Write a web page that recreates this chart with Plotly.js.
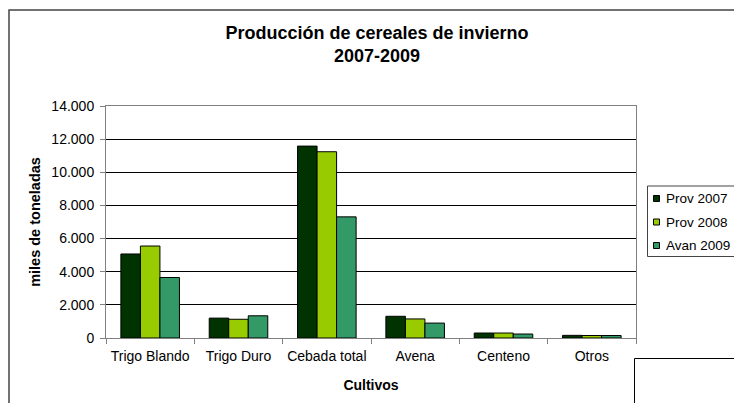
<!DOCTYPE html>
<html>
<head>
<meta charset="utf-8">
<script src="https://cdn.plot.ly/plotly-3.0.1.min.js"></script>
<style>html,body{margin:0;padding:0;background:#fff;}#chart{width:734px;height:403px;}</style>
</head>
<body>
<div id="chart"></div>
<script>
const categories = ["Trigo Blando", "Trigo Duro", "Cebada total", "Avena", "Centeno", "Otros"];
const seriesNames = ["Prov 2007", "Prov 2008", "Avan 2009"];
const prov2007 = [5070, 1200, 11580, 1310, 300, 160];
const prov2008 = [5550, 1130, 11240, 1150, 300, 150];
const avan2009 = [3650, 1340, 7310, 900, 240, 150];
const yTicks = [0, 2000, 4000, 6000, 8000, 10000, 12000, 14000];
const colors = ["#003300", "#99CC00", "#339966"];

const W = 734, H = 403;
const L = 106, R = 636, T = 106, B = 338;
const pw = R - L, ph = B - T;
const px = x => (x - L) / pw;
const py = y => (B - y) / ph;
const FONT = "Liberation Sans, Arial, sans-serif";

const data = [prov2007, prov2008, avan2009].map((vals, i) => ({
  type: "bar",
  name: seriesNames[i],
  x: categories,
  y: vals,
  marker: {color: colors[i], line: {color: "#000000", width: 1}},
  hoverinfo: "x+y+name"
}));

// custom legend (Excel-like compact legend)
const legendShapes = [
  {type: "rect", xref: "paper", yref: "paper",
   x0: px(647.5), x1: px(760), y0: py(186), y1: py(256.5),
   line: {color: "#444444", width: 1}, fillcolor: "#ffffff"}
];
const legendAnn = [];
const rowY = [198.5, 222, 245.5];
seriesNames.forEach((n, i) => {
  legendShapes.push({type: "rect", xref: "paper", yref: "paper",
    x0: px(653.5), x1: px(659.5), y0: py(rowY[i] - 3), y1: py(rowY[i] + 3),
    line: {color: "#000000", width: 1}, fillcolor: colors[i]});
  legendAnn.push({xref: "paper", yref: "paper", x: px(664), y: py(rowY[i]),
    xanchor: "left", yanchor: "middle", showarrow: false, text: n,
    font: {family: FONT, size: 13.5, color: "#000"}});
});

const layout = {
  width: W, height: H,
  margin: {l: L, r: W - R, t: T, b: H - B, pad: 0, autoexpand: false},
  paper_bgcolor: "#ffffff",
  plot_bgcolor: "#ffffff",
  separators: ",.",
  font: {family: FONT, size: 14, color: "#000"},
  barmode: "group",
  bargap: 0.337,
  bargroupgap: 0,
  showlegend: false,
  title: {
    text: "<b>Producción de cereales de invierno<br>2007-2009</b>",
    font: {size: 18, color: "#000"},
    x: 377 / W, xanchor: "center", xref: "container",
    y: 1 - 39 / H, yanchor: "middle", yref: "container"
  },
  xaxis: {
    type: "category",
    showline: true, linecolor: "#808080", linewidth: 1, mirror: true,
    ticks: "outside", tickson: "boundaries", ticklen: 5, tickcolor: "#808080",
    tickangle: 0, ticklabelstandoff: 5,
    showgrid: false, zeroline: false,
    tickfont: {size: 14},
    title: {text: "<b>Cultivos</b>", font: {size: 14}, standoff: 17}
  },
  yaxis: {
    range: [0, 14000],
    tickvals: yTicks,
    tickformat: ",d",
    showline: true, linecolor: "#808080", linewidth: 1, mirror: true,
    ticks: "outside", ticklen: 5, tickcolor: "#808080",
    ticklabelstandoff: 3,
    showgrid: true, gridcolor: "#000000", gridwidth: 1,
    zeroline: false,
    tickfont: {size: 14},
    title: {text: "<b>miles de toneladas</b>", font: {size: 14.5}, standoff: 7}
  },
  annotations: legendAnn,
  shapes: [
    {type: "rect", xref: "paper", yref: "paper",
     x0: px(9), x1: px(745), y0: py(10), y1: py(415),
     line: {color: "#444444", width: 1.5}, fillcolor: "rgba(0,0,0,0)", layer: "below"},
    {type: "rect", xref: "paper", yref: "paper",
     x0: px(634.5), x1: px(760), y0: py(358.5), y1: py(420),
     line: {color: "#000000", width: 1}, fillcolor: "rgba(0,0,0,0)"}
  ].concat(legendShapes)
};

Plotly.newPlot("chart", data, layout, {displayModeBar: false, staticPlot: true});
</script>
</body>
</html>
